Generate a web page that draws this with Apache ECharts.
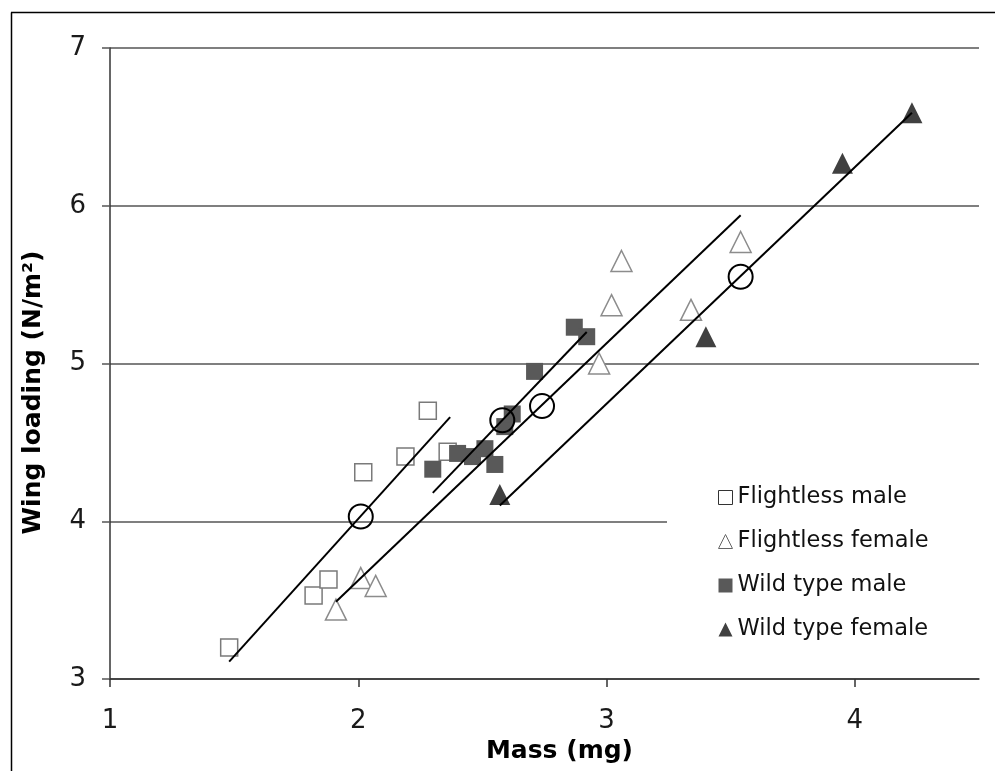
<!DOCTYPE html>
<html><head><meta charset="utf-8">
<script src="https://cdn.jsdelivr.net/npm/echarts@6/dist/echarts.min.js"></script>
<style>html,body{margin:0;padding:0;background:#fff;overflow:hidden}#c{width:995px;height:771px}</style>
</head><body><div id="c"></div>
<script>
// Data (mass in mg, wing loading in N/m²)
const flightlessMale = [[1.48,3.20],[1.82,3.53],[1.88,3.63],[2.02,4.31],[2.19,4.41],[2.28,4.70],[2.36,4.44]];
const flightlessFemale = [[1.91,3.44],[2.01,3.64],[2.07,3.59],[2.97,5.00],[3.02,5.37],[3.06,5.65],[3.34,5.34],[3.54,5.77]];
const wildMale = [[2.30,4.33],[2.40,4.43],[2.46,4.41],[2.51,4.46],[2.55,4.36],[2.59,4.60],[2.62,4.68],[2.71,4.95],[2.87,5.23],[2.92,5.17]];
const wildFemale = [[2.57,4.17],[3.40,5.17],[3.95,6.27],[4.23,6.59]];
const groupMeans = [[2.01,4.03],[2.58,4.64],[2.74,4.73],[3.54,5.55]];
const fitFlightlessMale = [[1.48,3.11],[2.37,4.66]];
const fitFlightlessFemale = [[1.91,3.49],[3.54,5.94]];
const fitWildMale = [[2.30,4.18],[2.92,5.20]];
const fitWildFemale = [[2.57,4.10],[4.23,6.59]];
const xTicks = [1,2,3,4];
const yTicks = [3,4,5,6,7];
const seriesNames = ['Flightless male','Flightless female','Wild type male','Wild type female'];

const FONT = 'DejaVu Sans, Verdana, sans-serif';
const chart = echarts.init(document.getElementById('c'), null, {renderer:'canvas'});
const lineSeries = (d) => ({type:'line', data:d, symbol:'none', silent:true, z:5,
  lineStyle:{color:'#000', width:2}, animation:false});
chart.setOption({
  animation:false,
  backgroundColor:'#fff',
  grid:{left:110, top:48, right:16, bottom:92},
  graphic:[
    {type:'line', shape:{x1:11.5, y1:771, x2:11.5, y2:12.5},
      style:{stroke:'#000', lineWidth:1.5}, z:-10, silent:true},
    {type:'line', shape:{x1:11, y1:12.5, x2:1000, y2:12.5},
      style:{stroke:'#000', lineWidth:1.5}, z:-10, silent:true},
    {type:'rect', shape:{x:667, y:470, width:328, height:190},
      style:{fill:'#fff', stroke:null}, z:3, silent:true}
  ],
  xAxis:{type:'value', min:1, max:4.5, interval:1,
    name:'Mass (mg)', nameLocation:'middle', nameGap:44,
    nameTextStyle:{fontFamily:FONT, fontSize:25, fontWeight:'bold', color:'#000', padding:[0,0,0,30]},
    axisLine:{onZero:false, lineStyle:{color:'#333', width:1.5}},
    axisTick:{show:true, length:8, customValues:xTicks, lineStyle:{color:'#333', width:1.5}},
    axisLabel:{customValues:xTicks, fontFamily:FONT, fontSize:26, color:'#1a1a1a', margin:29},
    splitLine:{show:false}},
  yAxis:{type:'value', min:3, max:7, interval:1,
    name:'Wing loading (N/m²)', nameLocation:'middle', nameGap:64,
    nameTextStyle:{fontFamily:FONT, fontSize:25, fontWeight:'bold', color:'#000', padding:[0,58,0,0]},
    axisLine:{show:true, lineStyle:{color:'#333', width:1.5}},
    axisTick:{show:true, length:8, customValues:yTicks, lineStyle:{color:'#555', width:1.5}},
    axisLabel:{customValues:yTicks, fontFamily:FONT, fontSize:26, color:'#1a1a1a', margin:24},
    splitLine:{show:true, lineStyle:{color:'#555', width:1.5}}},
  legend:{orient:'vertical', left:718, top:486, padding:0, z:4,
    itemWidth:14, itemHeight:14, itemGap:21, selectedMode:false,
    textStyle:{fontFamily:FONT, fontSize:22.5, color:'#111', lineHeight:22},
    data:[
      {name:seriesNames[0], icon:'rect', itemStyle:{color:'#fff', borderColor:'#333', borderWidth:1}},
      {name:seriesNames[1], icon:'triangle', itemStyle:{color:'#fff', borderColor:'#666', borderWidth:1}},
      {name:seriesNames[2], icon:'rect', itemStyle:{color:'#595959', borderWidth:0}},
      {name:seriesNames[3], icon:'triangle', itemStyle:{color:'#404040', borderWidth:0}}
    ]},
  series:[
    {name:seriesNames[0], type:'scatter', data:flightlessMale, symbol:'rect', symbolSize:17, z:2,
      itemStyle:{color:'#fff', borderColor:'#7a7a7a', borderWidth:1.5, opacity:1}},
    {name:seriesNames[1], type:'scatter', data:flightlessFemale, symbol:'triangle', symbolSize:[21,21], z:2,
      itemStyle:{color:'#fff', borderColor:'#8c8c8c', borderWidth:1.5, opacity:1}},
    {name:seriesNames[2], type:'scatter', data:wildMale, symbol:'rect', symbolSize:17, z:3,
      itemStyle:{color:'#595959', opacity:1}},
    {name:seriesNames[3], type:'scatter', data:wildFemale, symbol:'triangle', symbolSize:[21,21], z:3,
      itemStyle:{color:'#404040', opacity:1}},
    lineSeries(fitFlightlessMale),
    lineSeries(fitFlightlessFemale),
    lineSeries(fitWildMale),
    lineSeries(fitWildFemale),
    {name:'means', type:'scatter', data:groupMeans, symbol:'circle', symbolSize:24, z:6,
      itemStyle:{color:'rgba(0,0,0,0)', borderColor:'#000', borderWidth:2, opacity:1}}
  ]
});
</script></body></html>
